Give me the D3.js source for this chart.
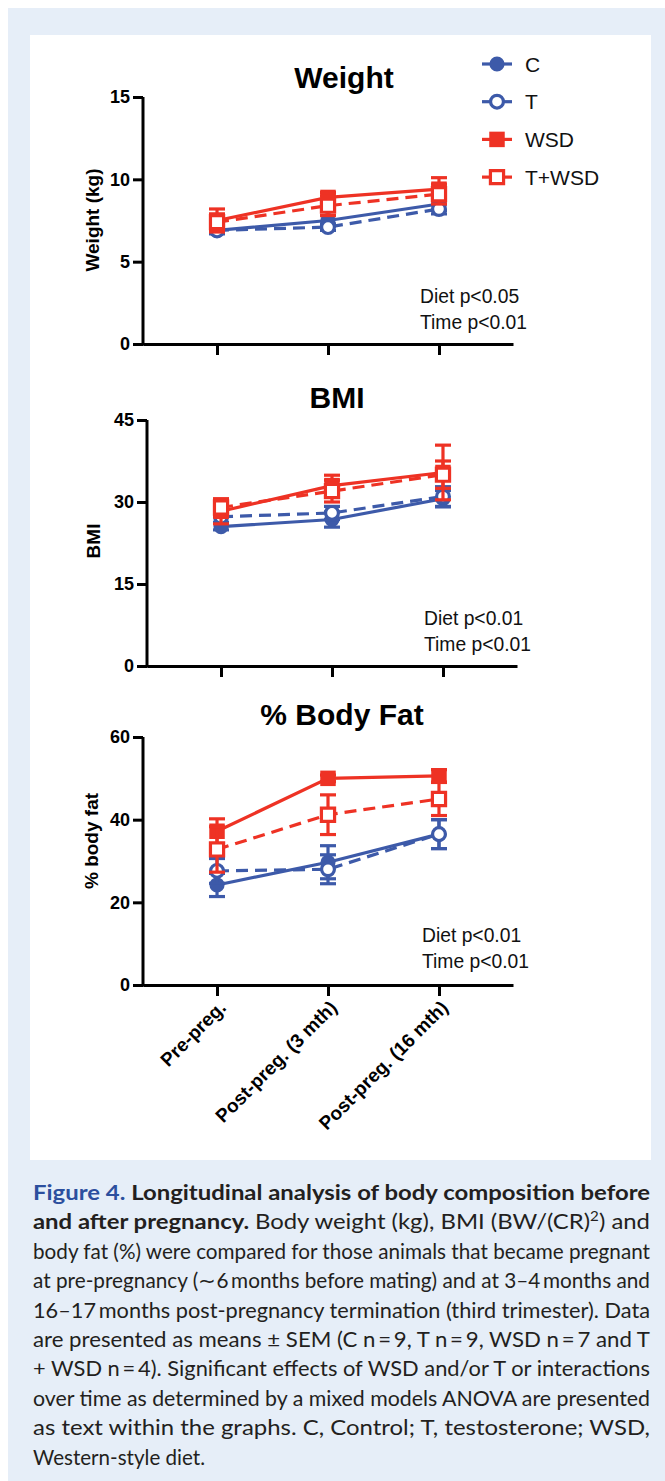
<!DOCTYPE html>
<html>
<head>
<meta charset="utf-8">
<script src="https://cdn.jsdelivr.net/npm/d3@7"></script>
<style>
  body { margin: 0; background: #fff; }
  svg text { font-family: "Liberation Sans", Arial, sans-serif; }
</style>
</head>
<body>
<svg id="fig" width="665" height="1481"></svg>
<script>
// ---- data ----
const timepoints = ["Pre-preg.", "Post-preg. (3 mth)", "Post-preg. (16 mth)"];
const groups = ["C", "T", "WSD", "T+WSD"];

// rows follow groups order: C, T, WSD, T+WSD
const weightMean = [[6.9, 7.5, 8.5], [6.9, 7.1, 8.2], [7.5, 8.9, 9.4], [7.4, 8.4, 9.1]];
const weightSem  = [[0.2, 0.3, 0.4], [0.2, 0.2, 0.3], [0.7, 0.3, 0.7], [0.5, 0.6, 0.6]];
const weightTicks = [0, 5, 10, 15];
const weightStats = ["Diet p<0.05", "Time p<0.01"];

const bmiMean = [[25.5, 26.8, 30.6], [27.3, 28.0, 31.0], [28.3, 33.0, 35.4], [29.0, 32.0, 35.0]];
const bmiSem  = [[0.6, 1.4, 1.5], [1.0, 1.2, 1.8], [2.3, 1.9, 5.0], [1.5, 2.0, 2.5]];
const bmiTicks = [0, 15, 30, 45];
const bmiStats = ["Diet p<0.01", "Time p<0.01"];

const fatMean = [[24.2, 29.7, 36.5], [27.6, 28.0, 36.5], [37.2, 50.0, 50.6], [32.8, 41.2, 45.0]];
const fatSem  = [[2.8, 4.0, 3.5], [3.0, 3.5, 3.5], [3.0, 0.8, 1.5], [5.5, 4.8, 4.0]];
const fatTicks = [0, 20, 40, 60];
const fatStats = ["Diet p<0.01", "Time p<0.01"];

const captionLines = [
  [["Figure 4. ", "fig"], ["Longitudinal analysis of body composition before", "b"]],
  [["and after pregnancy. ", "b"], ["Body weight (kg), BMI (BW/(CR)", ""], ["2", "sup"], [") and", ""]],
  [["body fat (%) were compared for those animals that became pregnant", ""]],
  [["at pre-pregnancy (\u223C6\u2009months before mating) and at 3\u20134\u2009months and", ""]],
  [["16\u201317\u2009months post-pregnancy termination (third trimester). Data", ""]],
  [["are presented as means \u00B1 SEM (C n\u2009=\u20099, T n\u2009=\u20099, WSD n\u2009=\u20097 and T", ""]],
  [["+ WSD n\u2009=\u20094). Significant effects of WSD and/or T or interactions", ""]],
  [["over time as determined by a mixed models ANOVA are presented", ""]],
  [["as text within the graphs. C, Control; T, testosterone; WSD,", ""]],
  [["Western-style diet.", ""]]
];

// ---- styling ----
const blue = "#3d5aa9", red = "#ee3224";
const colors = [blue, blue, red, red];
const dashes = [null, "12,7", null, "12,7"];
const shapes = [d3.symbolCircle, d3.symbolCircle, d3.symbolSquare, d3.symbolSquare];
const sizes = [180, 180, 240, 240];
const filled = [true, false, true, false];

const svg = d3.select("#fig");

svg.append("rect").attr("x", 8).attr("y", 8).attr("width", 657).attr("height", 1473).attr("fill", "#e6eef8");
svg.append("rect").attr("x", 30).attr("y", 35).attr("width", 621).attr("height", 1125).attr("fill", "#fff");

const panels = [
  { title: "Weight", ylab: "Weight (kg)", mean: weightMean, sem: weightSem, ticks: weightTicks, stats: weightStats,
    x0: 143, top: 97, bottom: 344, tx: 344, ty: 88, lx: 92, ly: 220, sx: 420, sy: 303 },
  { title: "BMI", ylab: "BMI", mean: bmiMean, sem: bmiSem, ticks: bmiTicks, stats: bmiStats,
    x0: 147, top: 420, bottom: 666, tx: 337, ty: 408, lx: 93, ly: 541, sx: 424, sy: 625 },
  { title: "% Body Fat", ylab: "% body fat", mean: fatMean, sem: fatSem, ticks: fatTicks, stats: fatStats,
    x0: 143, top: 737, bottom: 985, tx: 342, ty: 725, lx: 91, ly: 841, sx: 422, sy: 942 }
];

panels.forEach((p, pi) => {
  const g = svg.append("g");
  const y = d3.scaleLinear().domain([0, d3.max(p.ticks)]).range([p.bottom, p.top]);
  const x = d3.scalePoint().domain(timepoints).range([p.x0, p.x0 + 370]).padding(0.667);

  const yAxis = g.append("g")
    .attr("transform", `translate(${p.x0},0)`)
    .call(d3.axisLeft(y).tickValues(p.ticks).tickSize(10).tickPadding(3).tickSizeOuter(0));
  const xAxis = g.append("g")
    .attr("transform", `translate(0,${p.bottom})`)
    .call(d3.axisBottom(x).tickSize(11).tickSizeOuter(0));

  [yAxis, xAxis].forEach(a => {
    a.select(".domain").attr("stroke", "#000").attr("stroke-width", 3);
    a.selectAll(".tick line").attr("stroke", "#000").attr("stroke-width", 3);
    a.selectAll("text").attr("fill", "#000").attr("font-size", 18).attr("font-weight", "bold")
      .style("font-family", '"Liberation Sans", Arial, sans-serif');
  });
  yAxis.select(".domain").attr("d", `M0,${p.top}V${p.bottom + 1.5}`);

  if (pi < panels.length - 1) {
    xAxis.selectAll(".tick text").remove();
  } else {
    xAxis.selectAll(".tick text")
      .attr("x", 0).attr("y", 0).attr("dy", "0.35em")
      .attr("font-size", 19)
      .attr("text-anchor", "end")
      .attr("transform", "translate(5,19) rotate(-45)");
  }

  g.append("text").attr("x", p.tx).attr("y", p.ty).attr("text-anchor", "middle")
    .attr("font-size", 30).attr("font-weight", "bold").text(p.title);

  g.append("text").attr("transform", `translate(${p.lx},${p.ly}) rotate(-90)`)
    .attr("text-anchor", "middle").attr("dy", "0.35em")
    .attr("font-size", 19).attr("font-weight", "bold").text(p.ylab);

  p.stats.forEach((s, i) => {
    g.append("text").attr("x", p.sx).attr("y", p.sy + i * 25.5)
      .attr("font-size", 19.3).attr("fill", "#111").text(s);
  });

  const line = d3.line().x((d, j) => x(timepoints[j])).y(d => y(d));

  groups.forEach((grp, gi) => {
    const gg = g.append("g");
    gg.append("path").datum(p.mean[gi]).attr("d", line)
      .attr("fill", "none").attr("stroke", colors[gi]).attr("stroke-width", 3.2)
      .attr("stroke-dasharray", dashes[gi]);

    const pts = p.mean[gi].map((m, j) => ({ t: timepoints[j], m: m, s: p.sem[gi][j] }));
    const eb = gg.selectAll(".eb").data(pts).enter().append("g")
      .attr("stroke", colors[gi]).attr("stroke-width", 3.2);
    eb.append("line").attr("x1", d => x(d.t)).attr("x2", d => x(d.t))
      .attr("y1", d => y(d.m - d.s)).attr("y2", d => y(d.m + d.s));
    eb.append("line").attr("x1", d => x(d.t) - 8).attr("x2", d => x(d.t) + 8)
      .attr("y1", d => y(d.m + d.s)).attr("y2", d => y(d.m + d.s));
    eb.append("line").attr("x1", d => x(d.t) - 8).attr("x2", d => x(d.t) + 8)
      .attr("y1", d => y(d.m - d.s)).attr("y2", d => y(d.m - d.s));

    gg.selectAll(".mk").data(pts).enter().append("path")
      .attr("d", d3.symbol().type(shapes[gi]).size(filled[gi] ? sizes[gi] : sizes[gi] * 0.72))
      .attr("transform", d => `translate(${x(d.t)},${y(d.m)})`)
      .attr("fill", filled[gi] ? colors[gi] : "#fff")
      .attr("stroke", colors[gi]).attr("stroke-width", filled[gi] ? 0 : 3.2);
  });
});

// legend
const leg = svg.append("g");
groups.forEach((grp, gi) => {
  const yy = 64 + gi * 37.7;
  leg.append("line").attr("x1", 482).attr("x2", 512).attr("y1", yy).attr("y2", yy)
    .attr("stroke", colors[gi]).attr("stroke-width", 3.2);
  leg.append("path")
    .attr("d", d3.symbol().type(shapes[gi]).size(filled[gi] ? sizes[gi] : sizes[gi] * 0.72))
    .attr("transform", `translate(497,${yy})`)
    .attr("fill", filled[gi] ? colors[gi] : "#fff")
    .attr("stroke", colors[gi]).attr("stroke-width", filled[gi] ? 0 : 3.2);
  leg.append("text").attr("x", 525).attr("y", yy).attr("dy", "0.36em")
    .attr("font-size", 21).attr("fill", "#111").text(grp);
});

// caption
const cap = svg.append("g");
captionLines.forEach((segs, li) => {
  const last = li === captionLines.length - 1;
  const t = cap.append("text")
    .attr("x", 33).attr("y", 1200 + li * 29.4)
    .attr("font-size", 20.5).attr("fill", "#231f20")
    .style("font-family", "Lato, 'Open Sans', sans-serif")
    .attr("textLength", last ? 172 : 617)
    .attr("lengthAdjust", "spacingAndGlyphs");
  segs.forEach(([txt, kind]) => {
    const s = t.append("tspan").text(txt);
    if (kind === "fig") s.attr("font-weight", "bold").attr("fill", "#2c4f9e");
    if (kind === "b") s.attr("font-weight", "bold");
    if (kind === "sup") s.attr("font-size", 13).attr("baseline-shift", "super");
  });
});
</script>
</body>
</html>
